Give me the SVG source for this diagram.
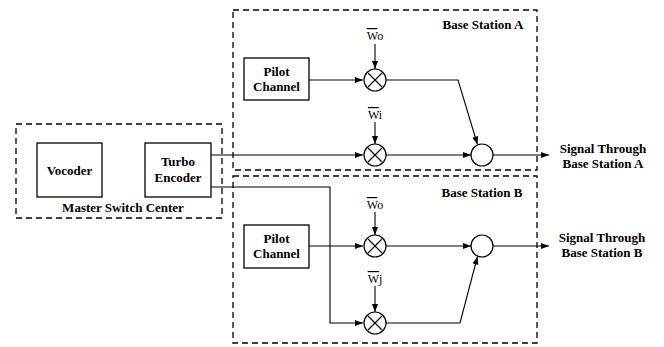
<svg xmlns="http://www.w3.org/2000/svg" width="664" height="347" viewBox="0 0 664 347">
<style>
.dash{fill:none;stroke:#000;stroke-width:1.3;stroke-dasharray:6,4}
.box{fill:#fff;stroke:#000;stroke-width:1.3}
.circ{fill:#fff;stroke:#000;stroke-width:1.2}
.x{stroke:#000;stroke-width:1.1}
.t{font-family:'Liberation Serif','Times New Roman','DejaVu Serif',serif;font-weight:bold;font-size:13px;fill:#000;text-anchor:middle}
.w{font-family:'Liberation Serif','Times New Roman','DejaVu Serif',serif;font-size:12px;fill:#000;text-anchor:middle}
.c{fill:none;stroke:#000;stroke-width:1.1}
.a{marker-end:url(#ah)}
</style>
<defs>
<marker id="ah" markerUnits="userSpaceOnUse" markerWidth="9" markerHeight="7" refX="8" refY="3" orient="auto">
<path d="M0,0 L8,3 L0,6 z" fill="#000"/>
</marker>
</defs>
<rect width="664" height="347" fill="#fff"/>

<g id="msc">
<rect class="dash" x="16" y="124" width="206" height="94"/>
<text class="t" x="123" y="212" font-family="Liberation Serif, serif">Master Switch Center</text>
</g>
<g id="bsA">
<rect class="dash" x="233" y="10" width="304" height="160"/>
<text class="t" x="483" y="29" font-family="Liberation Serif, serif">Base Station A</text>
</g>
<g id="bsB">
<rect class="dash" x="233" y="176" width="304" height="167"/>
<text class="t" x="482" y="197" font-family="Liberation Serif, serif">Base Station B</text>
</g>

<g id="connectors">
<path class="c a" d="M309,80 H363"/>
<path class="c a" d="M375,44 V69"/>
<path class="c a" d="M386,80 H458 L477.5,144.5"/>
<path class="c a" d="M375,122 V144"/>
<path class="c a" d="M211,155 H363"/>
<path class="c a" d="M386,155 H471"/>
<path class="c a" d="M493,155 H549"/>
<path class="c a" d="M211,187 H330 V323 H363"/>
<path class="c a" d="M309,246 H363"/>
<path class="c a" d="M375,212 V235"/>
<path class="c a" d="M386,246 H471"/>
<path class="c a" d="M375,286 V312"/>
<path class="c a" d="M386,323 H460 L477.5,256.5"/>
<path class="c a" d="M493,246 H549"/>
</g>

<g id="vocoder">
<rect class="box" x="37" y="143" width="65" height="54"/>
<text class="t" x="69.5" y="175">Vocoder</text>
</g>
<g id="turbo">
<rect class="box" x="145" y="143" width="66" height="54"/>
<text class="t" x="178" y="166">Turbo</text>
<text class="t" x="178" y="182">Encoder</text>
</g>
<g id="pilotA">
<rect class="box" x="244" y="58" width="65" height="42"/>
<text class="t" x="276.5" y="76">Pilot</text>
<text class="t" x="276.5" y="91">Channel</text>
</g>
<g id="pilotB">
<rect class="box" x="244" y="225" width="65" height="43"/>
<text class="t" x="276.5" y="243">Pilot</text>
<text class="t" x="276.5" y="258">Channel</text>
</g>

<g id="mulA1">
<circle class="circ" cx="375" cy="80" r="11"/>
<path class="x" d="M368,73 L382,87 M382,73 L368,87"/>
</g>
<g id="mulA2">
<circle class="circ" cx="375" cy="155" r="11"/>
<path class="x" d="M368,148 L382,162 M382,148 L368,162"/>
</g>
<g id="mulB1">
<circle class="circ" cx="375" cy="246" r="11"/>
<path class="x" d="M368,239 L382,253 M382,239 L368,253"/>
</g>
<g id="mulB2">
<circle class="circ" cx="375" cy="323" r="11"/>
<path class="x" d="M368,316 L382,330 M382,316 L368,330"/>
</g>
<g id="sumA"><circle class="circ" cx="482" cy="155" r="11"/></g>
<g id="sumB"><circle class="circ" cx="482" cy="246" r="11"/></g>

<g id="labels">
<text class="w" x="375" y="40"><tspan text-decoration="overline">W</tspan>o</text>
<text class="w" x="375" y="119"><tspan text-decoration="overline">W</tspan>i</text>
<text class="w" x="375" y="209"><tspan text-decoration="overline">W</tspan>o</text>
<text class="w" x="375" y="283"><tspan text-decoration="overline">W</tspan>j</text>
</g>

<g id="outA">
<text class="t" x="603" y="153">Signal Through</text>
<text class="t" x="603" y="168">Base Station A</text>
</g>
<g id="outB">
<text class="t" x="602" y="242">Signal Through</text>
<text class="t" x="602" y="257">Base Station B</text>
</g>
</svg>
